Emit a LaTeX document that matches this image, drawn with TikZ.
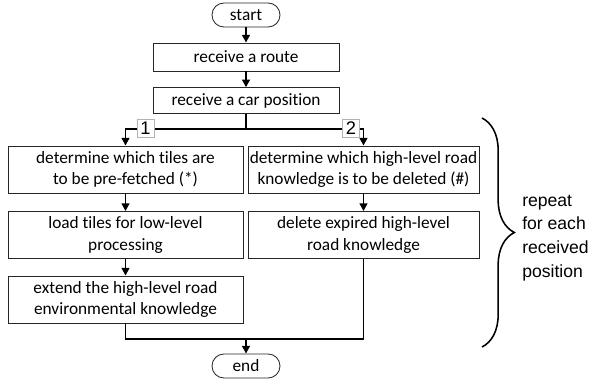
\documentclass[tikz,border=0pt]{standalone}
\usepackage{fontspec}
\setmainfont[Ligatures=NoCommon]{Carlito}
\newfontfamily\arialfont{Liberation Sans}
\usetikzlibrary{arrows.meta,decorations.pathreplacing}

\tikzset{
	box/.style={draw=black!85, line width=0.6pt, align=center, inner sep=1pt,
		font=\fontsize{12.3}{15}\selectfont},
	pill/.style={box, rounded corners=8.5pt, minimum width=1.7cm, minimum height=0.6cm},
	tag/.style={draw=black!30, fill=white, line width=0.5pt, inner sep=0pt,
		minimum width=0.43cm, minimum height=0.45cm, font=\arialfont\fontsize{13}{15}\selectfont},
	conn/.style={line width=1.4pt},
	arr/.style={conn, -{Triangle[length=5.5pt,width=5.5pt]}}
}

\begin{document}
\begin{tikzpicture}[x=0.025cm, y=-0.025cm]
	\useasboundingbox (0,0) rectangle (591,382);

	\node[pill] (start) at (246,15) {start};
	\node[box, minimum width=4.65cm, minimum height=0.7cm] (route) at (246,57) {receive a route};
	\node[box, minimum width=4.65cm, minimum height=0.64cm] (pos) at (246,100.5) {receive a car position};

	\node[box, minimum width=5.875cm, minimum height=1.175cm] (a1) at (125.5,169.5) {determine which tiles are\\to be pre-fetched (*)};
	\node[box, minimum width=5.875cm, minimum height=1.175cm] (a2) at (125.5,235) {load tiles for low-level\\processing};
	\node[box, minimum width=5.875cm, minimum height=1.175cm] (a3) at (125.5,299.5) {extend the high-level road\\environmental knowledge};

	\node[box, minimum width=5.775cm, minimum height=1.175cm] (b1) at (363.5,169.5) {determine which high-level road\\knowledge is to be deleted (\#)};
	\node[box, minimum width=5.775cm, minimum height=1.175cm] (b2) at (363.5,235) {delete expired high-level\\road knowledge};

	\node[pill] (end) at (246,366) {end};

	\coordinate (split) at (246,129);
	\coordinate (merge) at (246,339);

	\draw[arr] (start) -- (route);
	\draw[arr] (route) -- (pos);
	\draw[conn] (pos) -- (split);
	\draw[arr] (split) -| (a1);
	\draw[arr] (split) -| (b1);
	\draw[arr] (a1) -- (a2);
	\draw[arr] (a2) -- (a3);
	\draw[arr] (b1) -- (b2);
	\draw[conn] (a3) |- (merge);
	\draw[conn] (b2) |- (merge);
	\draw[arr] (merge) -- (end);

	\node[tag] (t1) at (145.5,128) {1};
	\node[tag] (t2) at (351,128) {2};

	\coordinate (btop) at (482,118);
	\coordinate (bbot) at (482,347);
	\draw[line width=1.1pt, decorate, decoration={brace, amplitude=23pt}] (btop) -- (bbot);
	\node[anchor=west, align=left, inner sep=0pt, font=\arialfont\fontsize{12.5}{17}\selectfont] (rep) at (522,238)
		{repeat\\for each\\received\\position};
\end{tikzpicture}
\end{document}
